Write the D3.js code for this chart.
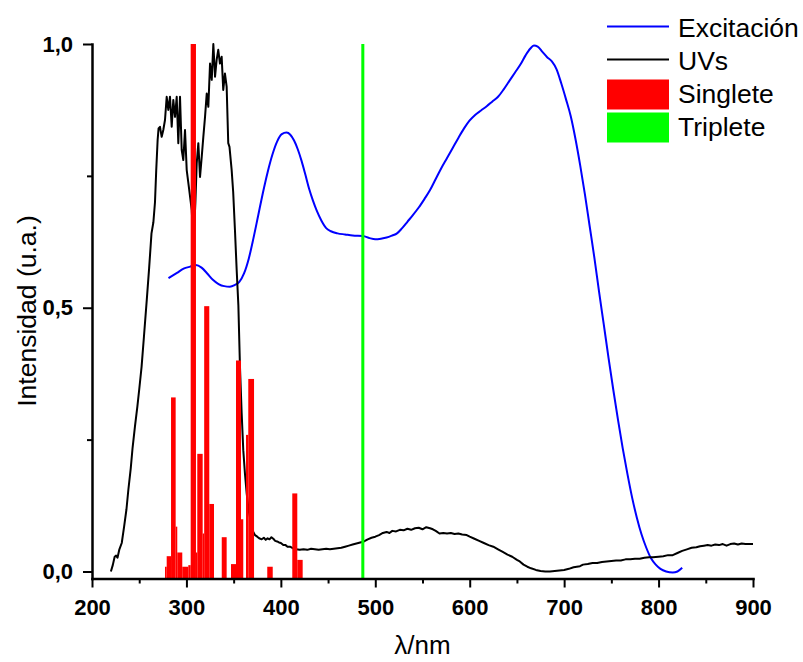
<!DOCTYPE html>
<html>
<head>
<meta charset="utf-8">
<style>
 body {margin: 0; background: #fff;}
 svg {display: block;}
 text {font-family: "Liberation Sans", Arial, sans-serif; fill: #000;}
</style>
<title>Excitación, UVs, Singlete y Triplete</title>
</head>
<body>
<div id="contenedor"></div>
<script src="https://d3js.org/d3.v7.min.js"></script>
<script>
// UVs (absorcion)
var uvNm = [220,222,224,225.5,227,229,231.5,234,236.5,238.5,241,243,245.5,248,250,252.5,255,258,260.5,263,
  265,266.7,268,269.5,270.5,272,273.8,275.5,277.3,279.1,280.8,282.6,284.4,286.1,287.9,289.7,291.4,293.2,295,296.7,
  298.5,300.3,303,305.6,307.5,309.5,310.9,312.6,314.4,316.2,317.9,319.7,321.5,323.2,325,326.8,328.5,330.3,332,333.7,
  335.5,337.3,339,340.8,342.6,344.3,345.6,347.9,349.5,351.4,353.2,355,356.7,358.5,360.2,362,363.8,366,369.1,371,
  372.6,375,377,379.7,382,384,386,388,390,392,394,396,398,400,402.6,405,407,409.7,413,416,
  420,424,428,432,436,440,444,448,452,456,460,464,468,472,476,480,484,488,492,496,
  500,504,508,512,515,518,522,526,530,534,538,542,546,550,554,558,561,564,568,572,
  576,580,584,588,592,596.8,600,605,610,615,620,625,630,635,640,645,650,653,657,661,
  665,670,675,680,685,690,695,700,705,710,716.8,720,725,730,735,740,745,750,755,760,
  765,770,775,780,785,790,794,800,805,810,815,820,825,830,835,840,844,848,852,856,
  860,864,868,872,876,880,884,888,892,896,900];
var uvVal = [0.000,0.012,0.028,0.030,0.026,0.042,0.054,0.085,0.118,0.155,0.195,0.235,0.275,0.312,0.345,0.388,0.445,0.515,0.575,0.641,
  0.662,0.700,0.760,0.818,0.840,0.843,0.824,0.837,0.856,0.900,0.875,0.900,0.843,0.894,0.862,0.900,0.812,0.900,0.799,0.780,
  0.837,0.761,0.723,0.685,0.620,0.700,0.774,0.812,0.748,0.786,0.824,0.862,0.906,0.881,0.963,0.932,1.000,0.938,0.970,0.989,
  0.963,0.976,0.913,0.944,0.919,0.812,0.805,0.761,0.720,0.647,0.572,0.505,0.388,0.300,0.230,0.185,0.148,0.115,0.085,0.074,
  0.069,0.066,0.063,0.061,0.064,0.060,0.063,0.061,0.065,0.062,0.058,0.057,0.055,0.054,0.050,0.050,0.047,0.047,0.044,0.042,
  0.041,0.042,0.041,0.043,0.042,0.041,0.042,0.043,0.042,0.043,0.044,0.045,0.047,0.049,0.051,0.053,0.055,0.057,0.061,0.064,
  0.066,0.069,0.073,0.075,0.073,0.077,0.076,0.079,0.078,0.081,0.079,0.082,0.083,0.080,0.084,0.082,0.080,0.077,0.072,0.073,
  0.072,0.073,0.071,0.072,0.070,0.069,0.066,0.062,0.058,0.054,0.050,0.047,0.042,0.037,0.032,0.028,0.022,0.019,0.013,0.009,
  0.006,0.003,0.001,0.000,0.000,0.001,0.002,0.003,0.005,0.008,0.010,0.013,0.014,0.016,0.016,0.018,0.019,0.020,0.021,0.021,
  0.023,0.023,0.024,0.024,0.026,0.027,0.027,0.028,0.029,0.031,0.031,0.035,0.039,0.042,0.045,0.046,0.048,0.049,0.050,0.049,
  0.051,0.050,0.052,0.049,0.052,0.053,0.051,0.053,0.052,0.052,0.052];

// Excitacion
var exNm = [281,290,297,304,310,316,322,328,334,340,346,351,356,361,366,371,376,381,386,391,
  396,401,406,410,414,418,422,426,430,434,438,443,448,453,460,468,476,487,494,500,
  506,512,518,523,528,534,540,546,552,558,564,570,576,582,588,594,600,606,612,618,
  624,630,636,642,648,654,659,664,668,672,677,682,687,692,697,702,707,712,717,722,
  727,732,737,742,747,752,757,762,767,772,777,782,787,792,797,802,808,815,820,825];
var exVal = [0.556,0.566,0.574,0.578,0.581,0.576,0.565,0.553,0.545,0.541,0.540,0.543,0.549,0.565,0.593,0.632,0.675,0.718,0.757,0.790,
  0.815,0.829,0.832,0.828,0.817,0.800,0.778,0.752,0.725,0.703,0.684,0.665,0.651,0.645,0.641,0.639,0.637,0.636,0.632,0.630,
  0.631,0.633,0.637,0.641,0.650,0.663,0.676,0.690,0.706,0.723,0.744,0.765,0.784,0.803,0.822,0.840,0.855,0.866,0.874,0.882,
  0.891,0.900,0.914,0.930,0.946,0.962,0.978,0.991,0.997,0.995,0.985,0.975,0.967,0.952,0.925,0.895,0.863,0.820,0.770,0.715,
  0.655,0.595,0.530,0.468,0.405,0.345,0.288,0.234,0.185,0.140,0.102,0.070,0.045,0.025,0.013,0.005,0.000,-0.002,0.000,0.007];

// Singlete (barras: desde, hasta en nm, intensidad)
var singleteDesde = [277.3,279.1,283.7,288.6,290.3,295.6,302.0,304.5,310.1,311.5,317.2,318.8,324.2,337.4,347.2,352.5,357.8,363.1,365.5,385.6,412.1,417.4];
var singleteHasta = [279.1,283.7,288.6,290.3,295.6,302.0,304.5,310.1,311.5,317.2,318.8,324.2,329.2,342.6,352.5,357.8,360.2,365.5,371.6,391.4,417.4,423.1];
var singleteVal   = [0.009,0.029,0.330,0.085,0.036,0.009,0.012,1.000,0.036,0.223,0.072,0.503,0.128,0.065,0.014,0.400,0.099,0.259,0.365,0.009,0.148,0.022];

// Triplete
var tripleteDesde = [485.2];
var tripleteHasta = [488.4];
var tripleteVal = [1.0];

var xTicks = [200,300,400,500,600,700,800,900];
var xMinor = [250,350,450,550,650,750,850];
var yTicks = [0, 0.5, 1.0];
var yMinor = [0.25, 0.75];
var leyenda = ["Excitación", "UVs", "Singlete", "Triplete"];
var colores = ["#0000ff", "#000000", "#ff0000", "#00ff00"];

var width = 803, height = 662;
var yMin = -0.0133;

var svg = d3.select("#contenedor").append("svg")
    .attr("width", width).attr("height", height);

var x = d3.scaleLinear().domain([200, 900]).range([92, 753]);
var y = d3.scaleLinear().domain([yMin, 1.0]).range([578.5, 44]);

var linea = d3.line().x(function(d){ return x(d[0]); }).y(function(d){ return y(d[1]); });

// lineas
svg.append("path")
   .datum(d3.zip(exNm, exVal))
   .attr("fill", "none").attr("stroke", colores[0]).attr("stroke-width", 2)
   .attr("d", linea.curve(d3.curveMonotoneX));

svg.append("path")
   .datum(d3.zip(uvNm, uvVal))
   .attr("fill", "none").attr("stroke", colores[1]).attr("stroke-width", 2)
   .attr("stroke-linejoin", "round")
   .attr("d", linea.curve(d3.curveLinear));

// barras
function barras(desde, hasta, val, color) {
  svg.append("g").selectAll("rect").data(d3.range(val.length))
     .enter().append("rect")
     .attr("x", function(i){ return x(desde[i]); })
     .attr("width", function(i){ return x(hasta[i]) - x(desde[i]); })
     .attr("y", function(i){ return y(val[i]); })
     .attr("height", function(i){ return y(yMin) - y(val[i]); })
     .attr("fill", color);
}
barras(singleteDesde, singleteHasta, singleteVal, colores[2]);
barras(tripleteDesde, tripleteHasta, tripleteVal, colores[3]);

// ejes
var fmt = function(d){ return d3.format(".1f")(d).replace(".", ","); };

var gx = svg.append("g").attr("transform", "translate(0,578.5)")
   .call(d3.axisBottom(x).tickValues(xTicks).tickSize(9).tickSizeOuter(0).tickPadding(12).tickFormat(d3.format("d")));
svg.append("g").attr("transform", "translate(0,578.5)")
   .call(d3.axisBottom(x).tickValues(xMinor).tickSize(5).tickFormat(""))
   .select(".domain").remove();

var gy = svg.append("g").attr("transform", "translate(92,0)")
   .call(d3.axisLeft(y).tickValues(yTicks).tickSize(9).tickSizeOuter(0).tickPadding(10).tickFormat(fmt));
svg.append("g").attr("transform", "translate(92,0)")
   .call(d3.axisLeft(y).tickValues(yMinor).tickSize(5).tickFormat(""))
   .select(".domain").remove();

svg.selectAll(".domain").attr("stroke-width", 2.5).attr("stroke-linecap", "square");
svg.selectAll(".tick line").attr("stroke-width", 2);
svg.selectAll(".tick text")
   .style("font-family", "'Liberation Sans', Arial, sans-serif")
   .style("font-size", "22px").style("font-weight", "bold");

// titulos de ejes
svg.append("text")
   .attr("transform", "translate(36,311) rotate(-90)")
   .attr("text-anchor", "middle").style("font-size", "26.5px")
   .text("Intensidad (u.a.)");
svg.append("text")
   .attr("x", 422.5).attr("y", 654)
   .attr("text-anchor", "middle").style("font-size", "26px")
   .text("λ/nm");

// leyenda
var ley = svg.append("g").selectAll("g").data(leyenda)
   .enter().append("g")
   .attr("transform", function(d, i){ return "translate(607," + (36.5 + i * 33) + ")"; });
ley.filter(function(d, i){ return i < 2; }).append("line")
   .attr("x1", 0).attr("x2", 62).attr("y1", -10).attr("y2", -10)
   .attr("stroke", function(d, i){ return colores[i]; }).attr("stroke-width", 2);
ley.filter(function(d, i){ return i >= 2; }).append("rect")
   .attr("x", 0).attr("y", -23).attr("width", 62).attr("height", 30)
   .attr("fill", function(d){ return colores[leyenda.indexOf(d)]; });
ley.append("text")
   .attr("x", 71).attr("y", 0)
   .style("font-size", "26.5px")
   .text(function(d){ return d; });
</script>
</body>
</html>
